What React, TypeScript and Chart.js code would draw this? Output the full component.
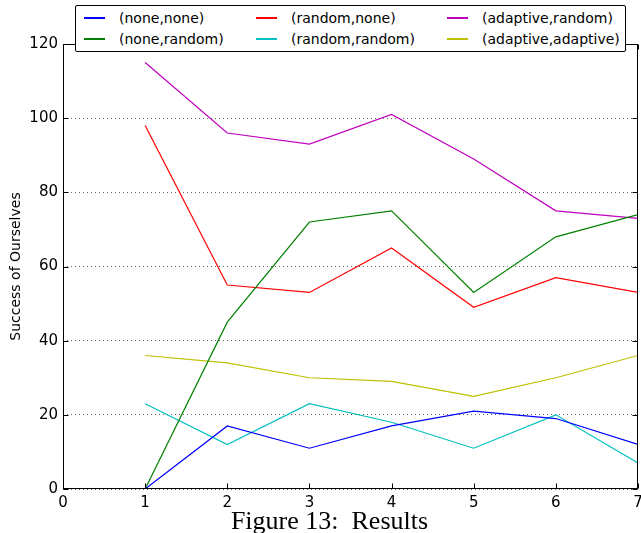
import React, { useEffect, useRef } from "react";
import { Chart, registerables } from "chart.js";

Chart.register(...registerables);

const xValues = [1, 2, 3, 4, 5, 6, 7];
const noneNone = [0, 17, 11, 17, 21, 19, 12];
const noneRandom = [0, 45, 72, 75, 53, 68, 74];
const randomNone = [98, 55, 53, 65, 49, 57, 53];
const randomRandom = [23, 12, 23, 18, 11, 20, 7];
const adaptiveRandom = [115, 96, 93, 101, 89, 75, 73];
const adaptiveAdaptive = [36, 34, 30, 29, 25, 30, 36];
const xTicks = [0, 1, 2, 3, 4, 5, 6, 7];
const yTicks = [0, 20, 40, 60, 80, 100, 120];

const seriesDefs = [
  { label: "(none,none)", data: noneNone, color: "#0000ff" },
  { label: "(none,random)", data: noneRandom, color: "#008000" },
  { label: "(random,none)", data: randomNone, color: "#ff0000" },
  { label: "(random,random)", data: randomRandom, color: "#00bfbf" },
  { label: "(adaptive,random)", data: adaptiveRandom, color: "#bf00bf" },
  { label: "(adaptive,adaptive)", data: adaptiveAdaptive, color: "#bfbf00" },
];

const FONT = "'DejaVu Sans', sans-serif";

const framePlugin = {
  id: "frame",
  afterDraw(chart: any) {
    const { ctx, chartArea } = chart;
    const { left, right, top, bottom } = chartArea;
    const xs = chart.scales.x;
    const ys = chart.scales.y;
    ctx.save();
    ctx.strokeStyle = "#000";
    ctx.lineWidth = 1;
    ctx.setLineDash([]);
    const L = Math.round(left) + 0.5;
    const R = Math.round(right) - 0.5;
    const T = Math.round(top) + 0.5;
    const B = Math.round(bottom) - 0.5;
    ctx.strokeRect(L, T, R - L, B - T);
    ctx.beginPath();
    for (const v of yTicks) {
      const y = Math.round(ys.getPixelForValue(v)) + 0.5;
      ctx.moveTo(L, y);
      ctx.lineTo(L + 5, y);
      ctx.moveTo(R, y);
      ctx.lineTo(R - 5, y);
    }
    for (const v of xTicks) {
      const x = Math.round(xs.getPixelForValue(v)) + 0.5;
      ctx.moveTo(x, B);
      ctx.lineTo(x, B - 5);
      ctx.moveTo(x, T);
      ctx.lineTo(x, T + 5);
    }
    ctx.stroke();
    ctx.restore();
  },
};

export default function App() {
  const ref = useRef<HTMLCanvasElement>(null);

  useEffect(() => {
    if (!ref.current) return;
    const chart = new Chart(ref.current, {
      type: "line",
      data: {
        datasets: seriesDefs.map((s) => ({
          label: s.label,
          data: xValues.map((x, i) => ({ x, y: s.data[i] })),
          borderColor: s.color,
          backgroundColor: s.color,
          borderWidth: 1.2,
          pointRadius: 0,
          tension: 0,
          fill: false,
        })),
      },
      options: {
        animation: false,
        responsive: false,
        maintainAspectRatio: false,
        layout: { padding: { top: 44, right: 3, left: 0, bottom: 0 } },
        plugins: {
          legend: { display: false },
          tooltip: { enabled: false },
        },
        scales: {
          x: {
            type: "linear",
            min: 0,
            max: 7,
            afterFit: (scale: any) => {
              scale.height = 44;
              scale.paddingLeft = 0;
              scale.paddingRight = 0;
            },
            afterBuildTicks: (scale: any) => {
              scale.ticks = xTicks.map((v) => ({ value: v }));
            },
            grid: { display: false, drawTicks: false },
            border: { display: false },
            ticks: {
              color: "#000",
              padding: 5,
              maxRotation: 0,
              font: { family: FONT, size: 15 },
            },
          },
          y: {
            min: 0,
            max: 120,
            afterFit: (scale: any) => {
              scale.width = 63;
              scale.paddingTop = 0;
              scale.paddingBottom = 0;
            },
            afterBuildTicks: (scale: any) => {
              scale.ticks = yTicks.map((v) => ({ value: v }));
            },
            grid: {
              color: "rgba(0,0,0,0.6)",
              lineWidth: 1,
              drawTicks: false,
            },
            border: { display: false, dash: [1, 3] },
            ticks: {
              color: "#000",
              padding: 5,
              font: { family: FONT, size: 15 },
            },
            title: {
              display: true,
              text: "Success of Ourselves",
              color: "#000",
              font: { family: FONT, size: 14 },
              padding: { top: 8, bottom: 0 },
            },
          },
        },
      },
      plugins: [framePlugin],
    });
    return () => chart.destroy();
  }, []);

  const cols = [
    { line: 84, text: 119 },
    { line: 256, text: 291 },
    { line: 447, text: 482 },
  ];

  return (
    <div style={{ position: "absolute", left: 0, top: 0, width: 641, height: 533, background: "#fff" }}>
      <canvas ref={ref} width={641} height={533} style={{ position: "absolute", left: 0, top: 0 }} />
      <div
        style={{
          position: "absolute",
          left: 75,
          top: 5,
          width: 551,
          height: 47,
          border: "1px solid #000",
          borderRadius: 2,
          background: "#fff",
          boxSizing: "border-box",
        }}
      />
      {seriesDefs.map((s, i) => {
        const col = cols[Math.floor(i / 2)];
        const rowY = i % 2 === 0 ? 18 : 39;
        return (
          <React.Fragment key={s.label}>
            <div
              style={{
                position: "absolute",
                left: col.line,
                top: rowY - 1,
                width: 21,
                height: 2,
                background: s.color,
              }}
            />
            <div
              style={{
                position: "absolute",
                left: col.text,
                top: rowY - 9,
                height: 18,
                lineHeight: "18px",
                fontFamily: FONT,
                fontSize: 14,
                color: "#000",
                whiteSpace: "nowrap",
              }}
            >
              {s.label}
            </div>
          </React.Fragment>
        );
      })}
      <div
        style={{
          position: "absolute",
          left: 0,
          width: 659,
          top: 506,
          textAlign: "center",
          fontFamily: "'Liberation Serif', serif",
          fontSize: 26,
          lineHeight: "30px",
          color: "#000",
          whiteSpace: "nowrap",
        }}
      >
        Figure 13:&nbsp; Results
      </div>
    </div>
  );
}
